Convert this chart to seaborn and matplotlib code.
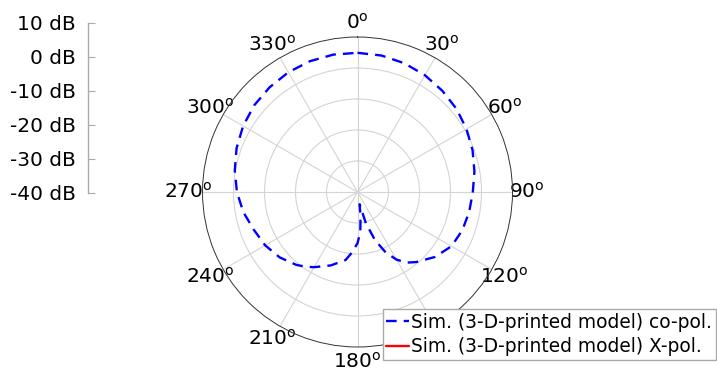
#!/usr/bin/env python3
'''
Polar radiation pattern (co-pol / X-pol) with a separate dB scale on the left.
'''
import numpy as np
import matplotlib
matplotlib.use('Agg')
import matplotlib.pyplot as plt
import seaborn as sns

# co-pol pattern (degrees clockwise from top, dB)
copol_angles = [0, 10, 20, 30, 40, 50, 60, 70, 80, 90, 100, 110, 120, 130,
                140, 145, 150, 155, 160, 165, 170, 173, 176, 180, 185, 190,
                200, 210, 215, 220, 230, 240, 250, 260, 270, 280, 290, 300,
                310, 320, 330, 340, 350, 360]
copol_db = [4.9, 4.7, 4.2, 3.5, 2.6, 1.7, 0.6, -0.5, -1.7, -2.8, -3.4, -4.0,
            -5.0, -7.4, -10.5, -12.2, -14.8, -18.5, -23.5, -29.5, -36.0,
            -32.0, -27.0, -23.5, -20.5, -17.7, -14.8, -12.0, -10.6, -9.3,
            -7.2, -5.6, -4.4, -2.6, -1.1, 0.2, 1.5, 2.6, 3.5, 4.1, 4.6, 4.9,
            5.0, 4.9]
# X-pol stays below the -40 dB floor, nothing visible
xpol_angles = []
xpol_db = []

r_ticks = [-40, -30, -20, -10, 0, 10]
theta_ticks = list(range(0, 360, 30))
series_names = ['Sim. (3-D-printed model) co-pol.',
                'Sim. (3-D-printed model) X-pol.']

sns.set_style('white')
plt.rcParams['font.family'] = ['DejaVu Sans']
plt.rcParams['axes.unicode_minus'] = False
plt.rcParams['text.color'] = 'black'

fig = plt.figure(figsize=(7.17, 3.78), dpi=100)

# polar plot
ax = fig.add_axes([202.5 / 717, 31 / 378, 310 / 717, 310 / 378],
                  projection='polar')
ax.set_theta_zero_location('N')
ax.set_theta_direction(-1)
sns.lineplot(x=np.deg2rad(copol_angles), y=copol_db, ax=ax, sort=False,
             color='blue', lw=1.7, linestyle=(0, (4.5, 3)),
             label=series_names[0])
ax.plot(np.deg2rad(xpol_angles), xpol_db, color='red', lw=1.7,
        label=series_names[1])
ax.set_rlim(-40, 10)
ax.set_rticks(r_ticks[1:-1])
ax.set_yticklabels([])
ax.set_xticks(np.deg2rad(theta_ticks))
ax.set_xticklabels([r'$\mathregular{%d^o}$' % t for t in theta_ticks],
                   fontsize=14.5)
ax.tick_params(axis='x', pad=0, labelcolor='black')
ax.grid(True, color='#d4d4d4', lw=0.8)
ax.spines['polar'].set_color('#333333')
ax.spines['polar'].set_linewidth(0.7)
if ax.get_legend() is not None:
    ax.get_legend().remove()

# separate dB scale
rax = fig.add_axes([88 / 717, 185 / 378, 0.02, 170 / 378])
rax.set_facecolor('none')
rax.set_ylim(-40, 10)
rax.set_yticks(r_ticks)
rax.set_yticklabels([f'{v} dB' for v in r_ticks])
rax.set_xticks([])
for side in ['top', 'right', 'bottom']:
    rax.spines[side].set_visible(False)
rax.spines['left'].set_color('#aaaaaa')
rax.spines['left'].set_linewidth(1)
rax.tick_params(axis='y', left=True, direction='in', length=5,
                color='#aaaaaa', labelsize=14.5, pad=9, labelcolor='black')

handles, labels = ax.get_legend_handles_labels()
leg = fig.legend(handles, labels, loc='lower right',
                 bbox_to_anchor=(716 / 717, 18 / 378), fontsize=13.4,
                 frameon=True, fancybox=False, edgecolor='#aaaaaa',
                 framealpha=1, borderpad=0.2, labelspacing=0.3,
                 handlelength=1.2, handletextpad=0.15, borderaxespad=0)
leg.get_frame().set_linewidth(1)
leg.set_zorder(5)
for t in leg.get_texts():
    t.set_color('black')

fig.savefig('out.png', dpi=100)
